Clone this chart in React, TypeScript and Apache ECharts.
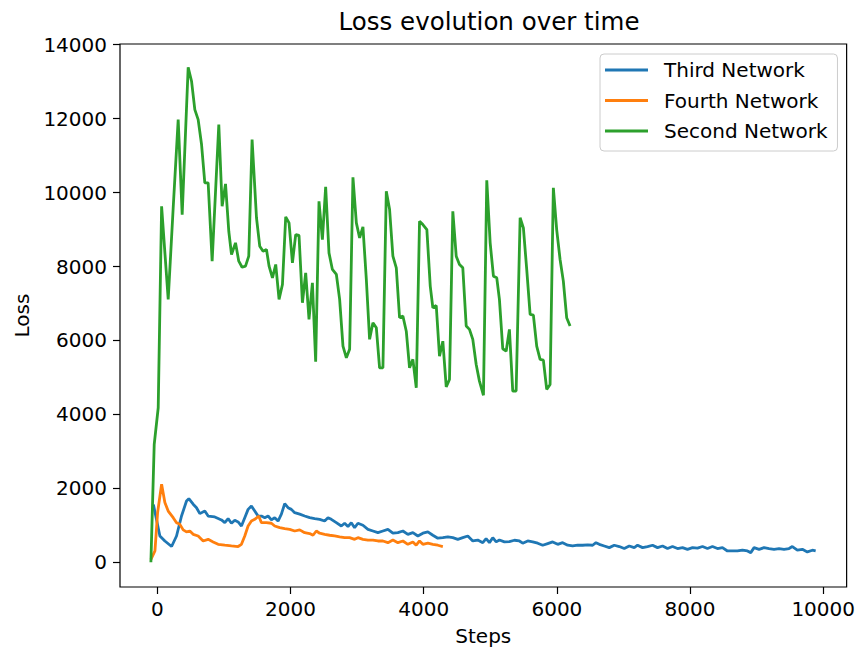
import React, { useEffect, useRef } from "react";
import * as echarts from "echarts";

const xTicks = [0, 2000, 4000, 6000, 8000, 10000];
const yTicks = [0, 2000, 4000, 6000, 8000, 10000, 12000, 14000];

const thirdSteps = [-60, 37, 112, 213, 287, 362, 437, 472, 537, 587, 637, 712, 762, 862, 962, 1012, 1062, 1112, 1162, 1212, 1262, 1312, 1362, 1412, 1462, 1512, 1562, 1612, 1662, 1712, 1762, 1812, 1862, 1912, 1962, 2012, 2062, 2137, 2212, 2287, 2362, 2437, 2512, 2562, 2612, 2687, 2762, 2812, 2862, 2912, 2962, 3012, 3087, 3162, 3237, 3312, 3387, 3462, 3537, 3612, 3687, 3762, 3837, 3912, 3987, 4062, 4137, 4212, 4287, 4362, 4437, 4512, 4587, 4662, 4737, 4812, 4887, 4937, 4987, 5037, 5088, 5137, 5212, 5287, 5362, 5437, 5487, 5562, 5637, 5712, 5787, 5862, 5937, 6012, 6087, 6162, 6237, 6312, 6387, 6462, 6537, 6587, 6637, 6712, 6787, 6862, 6937, 7012, 7087, 7162, 7212, 7287, 7362, 7437, 7512, 7587, 7662, 7737, 7812, 7887, 7962, 8037, 8112, 8187, 8262, 8337, 8412, 8487, 8562, 8637, 8712, 8787, 8862, 8912, 8962, 9037, 9112, 9187, 9262, 9337, 9412, 9487, 9537, 9612, 9687, 9762, 9837, 9887];
const thirdLoss = [1560, 710, 575, 425, 710, 1250, 1655, 1720, 1570, 1475, 1315, 1385, 1250, 1225, 1145, 1070, 1180, 1055, 1135, 1090, 980, 1205, 1430, 1520, 1385, 1250, 1250, 1205, 1250, 1145, 1205, 1115, 1300, 1585, 1475, 1430, 1340, 1300, 1250, 1205, 1180, 1160, 1115, 1205, 1160, 1070, 980, 1055, 965, 1070, 935, 1055, 1000, 890, 845, 800, 845, 890, 785, 800, 845, 755, 800, 710, 785, 820, 730, 650, 665, 685, 665, 620, 665, 710, 575, 600, 530, 640, 530, 665, 550, 600, 550, 560, 595, 575, 515, 575, 550, 515, 460, 505, 550, 485, 530, 460, 440, 460, 460, 470, 460, 530, 485, 440, 395, 460, 425, 370, 440, 395, 460, 395, 425, 460, 395, 440, 370, 425, 370, 395, 350, 395, 380, 425, 370, 425, 370, 395, 305, 305, 305, 330, 305, 260, 395, 350, 395, 370, 350, 370, 350, 370, 425, 330, 350, 280, 325, 305];

const fourthSteps = [-97, -37, 3, 63, 112, 162, 237, 287, 337, 387, 437, 487, 537, 612, 687, 762, 837, 912, 1012, 1112, 1212, 1262, 1312, 1362, 1412, 1462, 1522, 1562, 1637, 1712, 1762, 1837, 1912, 1987, 2062, 2137, 2212, 2287, 2337, 2387, 2437, 2512, 2587, 2662, 2737, 2812, 2887, 2962, 3012, 3087, 3162, 3237, 3312, 3387, 3462, 3537, 3612, 3687, 3762, 3837, 3887, 3937, 3987, 4062, 4137, 4212, 4287];
const fourthLoss = [80, 305, 1345, 2110, 1615, 1385, 1205, 1070, 1025, 875, 820, 845, 755, 710, 575, 620, 550, 485, 460, 440, 425, 485, 710, 980, 1115, 1160, 1250, 1070, 1070, 1055, 980, 935, 910, 890, 845, 875, 800, 775, 730, 845, 785, 755, 730, 710, 685, 665, 665, 620, 665, 620, 600, 600, 575, 575, 530, 600, 530, 575, 485, 550, 460, 575, 485, 515, 485, 460, 425];

const secondSteps = [-98, -48, 12, 63, 162, 237, 312, 372, 462, 513, 562, 612, 663, 712, 762, 822, 922, 972, 1023, 1072, 1113, 1173, 1222, 1272, 1323, 1372, 1422, 1488, 1537, 1587, 1638, 1677, 1728, 1777, 1827, 1878, 1927, 1977, 2028, 2077, 2127, 2178, 2227, 2277, 2328, 2377, 2427, 2478, 2527, 2577, 2628, 2688, 2737, 2787, 2838, 2887, 2937, 2988, 3037, 3087, 3138, 3187, 3237, 3288, 3337, 3387, 3438, 3487, 3537, 3588, 3637, 3687, 3738, 3787, 3837, 3888, 3937, 3987, 4047, 4098, 4137, 4188, 4237, 4287, 4338, 4387, 4437, 4488, 4537, 4587, 4638, 4687, 4737, 4788, 4837, 4897, 4947, 4998, 5047, 5097, 5137, 5187, 5238, 5287, 5337, 5388, 5448, 5497, 5547, 5598, 5647, 5697, 5748, 5797, 5847, 5898, 5947, 5997, 6048, 6097, 6147, 6198];
const secondLoss = [0, 3190, 4180, 9630, 7110, 9590, 11975, 9405, 13390, 13010, 12245, 11975, 11300, 10265, 10265, 8145, 11840, 9630, 10235, 8955, 8325, 8640, 8145, 7980, 8010, 8280, 11435, 9320, 8550, 8415, 8460, 8010, 7695, 8055, 7110, 7515, 9345, 9180, 8100, 8865, 8840, 7020, 7830, 6570, 7560, 5425, 9765, 8730, 10155, 8370, 7920, 7785, 7110, 5845, 5530, 5760, 10415, 9180, 8775, 9075, 7650, 6030, 6480, 6345, 5260, 5260, 10035, 9550, 8280, 7965, 6615, 6660, 6250, 5260, 5490, 4720, 9225, 9135, 9000, 7470, 6885, 6945, 5575, 5980, 4745, 4945, 9495, 8280, 8055, 7965, 6390, 6300, 6030, 5350, 4900, 4515, 10335, 8640, 7740, 7695, 7110, 5775, 5710, 6300, 4630, 4630, 9320, 9045, 7920, 6705, 6685, 5845, 5490, 5470, 4675, 4810, 10130, 9000, 8190, 7605, 6615, 6390];

const FONT = "DejaVu Sans";
const FS = 20;

function pairs(xs: number[], ys: number[]) {
  return xs.map((x, i) => [x, ys[i]]);
}

export default function App() {
  const ref = useRef<HTMLDivElement>(null);
  useEffect(() => {
    if (!ref.current) return;
    const chart = echarts.init(ref.current, null, { renderer: "svg" });
    const lineSeries = (name: string, color: string, data: number[][]) => ({
      name,
      type: "line",
      data,
      showSymbol: false,
      symbol: "none",
      lineStyle: { color, width: 2.8 },
      itemStyle: { color },
      z: 2,
    });
    const plain = (v: number) => String(v);
    chart.setOption({
      animation: false,
      backgroundColor: "#fff",
      title: {
        text: "Loss evolution over time",
        left: 484,
        textAlign: "center",
        top: 4,
        textStyle: { fontFamily: FONT, fontSize: 24.5, fontWeight: "normal", color: "#000" },
      },
      legend: {
        orient: "vertical",
        left: 600,
        top: 54,
        padding: [6, 10, 10, 5],
        itemGap: 10.5,
        itemWidth: 43,
        itemHeight: 3,
        icon: "rect",
        backgroundColor: "rgba(255,255,255,0.8)",
        borderColor: "#cccccc",
        borderWidth: 1,
        borderRadius: 4,
        textStyle: { fontFamily: FONT, fontSize: FS, color: "#000", lineHeight: 20, padding: [0, 0, 0, 11] },
        data: ["Third Network", "Fourth Network", "Second Network"],
      },
      grid: {
        left: 120,
        right: 10,
        top: 44,
        bottom: 66,
        show: true,
        borderColor: "#000",
        borderWidth: 1.2,
        containLabel: false,
      },
      xAxis: {
        type: "value",
        min: -562,
        max: 10352,
        name: "Steps",
        nameLocation: "middle",
        nameGap: 39,
        nameTextStyle: { fontFamily: FONT, fontSize: FS, color: "#000" },
        axisLine: { show: false, onZero: false },
        splitLine: { show: false },
        axisTick: { show: true, length: 7, customValues: xTicks, lineStyle: { color: "#000", width: 1.2 } },
        axisLabel: { customValues: xTicks, formatter: plain, margin: 12, fontFamily: FONT, fontSize: FS, color: "#000" },
      },
      yAxis: {
        type: "value",
        min: -670,
        max: 14020,
        name: "Loss",
        nameLocation: "middle",
        nameGap: 88,
        nameRotate: 90,
        nameTextStyle: { fontFamily: FONT, fontSize: FS, color: "#000" },
        axisLine: { show: false, onZero: false },
        splitLine: { show: false },
        axisTick: { show: true, length: 7, customValues: yTicks, lineStyle: { color: "#000", width: 1.2 } },
        axisLabel: { customValues: yTicks, formatter: plain, margin: 13, fontFamily: FONT, fontSize: FS, color: "#000" },
      },
      series: [
        lineSeries("Third Network", "#1f77b4", pairs(thirdSteps, thirdLoss)),
        lineSeries("Fourth Network", "#ff7f0e", pairs(fourthSteps, fourthLoss)),
        lineSeries("Second Network", "#2ca02c", pairs(secondSteps, secondLoss)),
      ],
    });
    return () => chart.dispose();
  }, []);
  return <div ref={ref} style={{ width: 858, height: 653, position: "absolute", left: 0, top: 0 }} />;
}
